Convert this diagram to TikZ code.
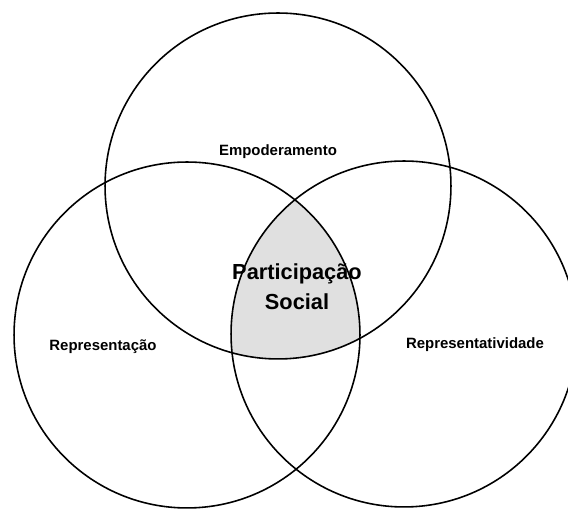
\documentclass[tikz,border=0pt]{standalone}
\usepackage{fontspec}
\setmainfont{Liberation Sans}
\usepackage{tikz}

\begin{document}
\begin{tikzpicture}[
    x=0.02cm, y=0.02cm,
    every node/.style={font=\bfseries\fontsize{8.5}{10}\selectfont},
    ring/.style={circle, draw, line width=0.9pt, minimum size=6.92cm, inner sep=0pt},
    core/.style={align=center, font=\bfseries\fontsize{12.4}{17}\selectfont}
]
\useasboundingbox (0,0) rectangle (568,509);
\clip (0,0) rectangle (568,509);

% centres of the three sets
\coordinate (cEmp) at (278,323);
\coordinate (cRep) at (187,174);
\coordinate (cRepv) at (404,175);

% common part of the three sets
\begin{scope}
    \clip (cEmp) circle (3.46cm);
    \clip (cRep) circle (3.46cm);
    \fill[black!12] (cRepv) circle (3.46cm);
\end{scope}

\node[ring] (emp)  at (cEmp)  {};
\node[ring] (rep)  at (cRep)  {};
\node[ring] (repv) at (cRepv) {};

\node (lblEmp)  at (278,357) {Empoderamento};
\node (lblRep)  at (103,162) {Representação};
\node (lblRepv) at (475,164) {Representatividade};
\node[core] (part) at (297,222) {Participação\\Social};
\end{tikzpicture}
\end{document}
